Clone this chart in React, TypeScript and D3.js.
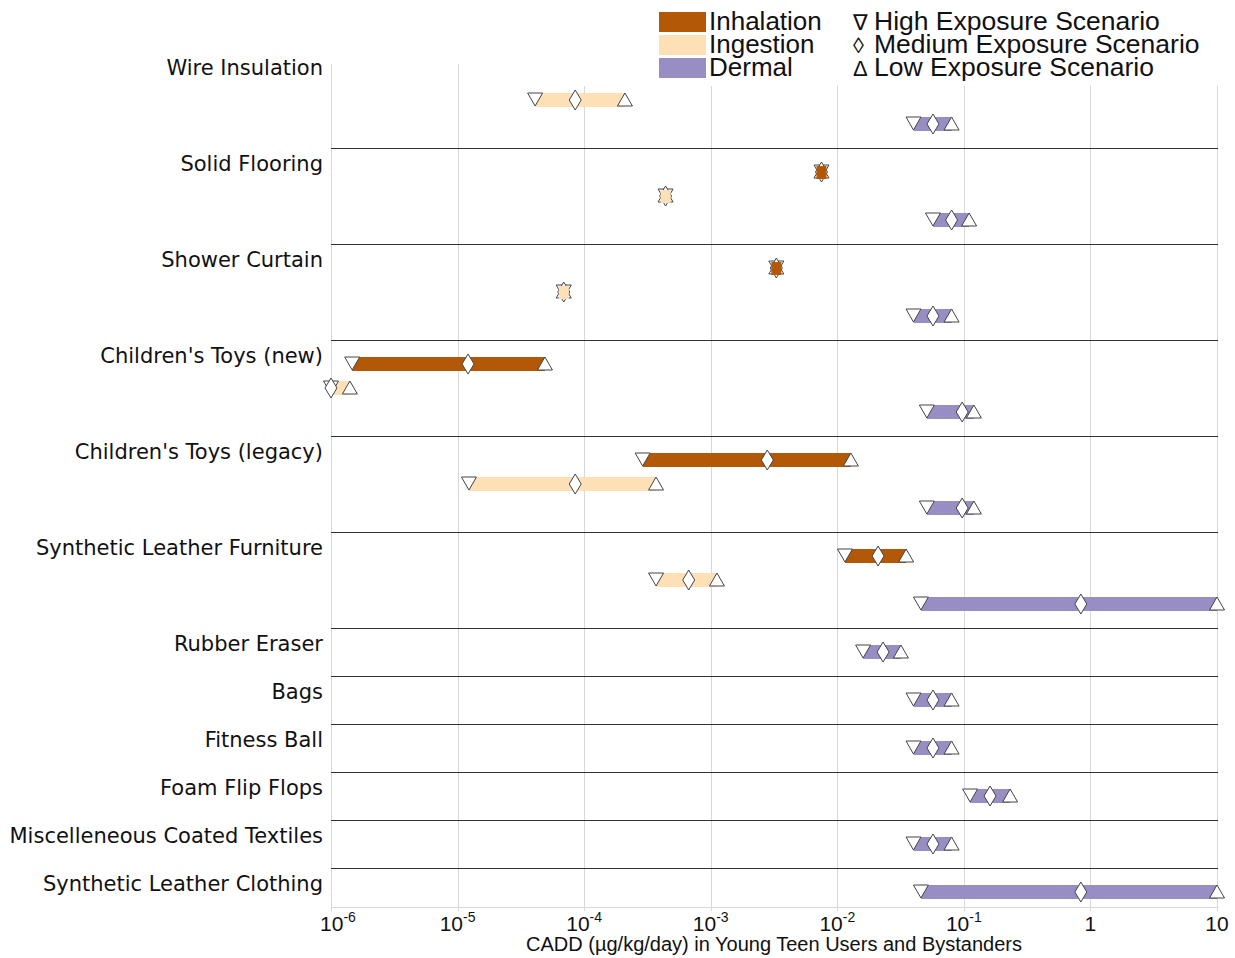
import React from "react";
import * as d3 from "d3";

const categories = [
  "Wire Insulation",
  "Solid Flooring",
  "Shower Curtain",
  "Children's Toys (new)",
  "Children's Toys (legacy)",
  "Synthetic Leather Furniture",
  "Rubber Eraser",
  "Bags",
  "Fitness Ball",
  "Foam Flip Flops",
  "Miscelleneous Coated Textiles",
  "Synthetic Leather Clothing",
];

// row index of each category's first slot (label row)
const categoryRow = [1, 5, 9, 13, 17, 21, 25, 27, 29, 31, 33, 35];
// separators below each category (row index)
const separatorRows = [4, 8, 12, 16, 20, 24, 26, 28, 30, 32, 34];

const routes = ["Inhalation", "Ingestion", "Dermal"];
const routeColors = ["#b35806", "#fee0b6", "#998ec3"];

// [category, route index, high(▽), medium(◇), low(△)]
type Rec = [number, number, number, number, number];
const inhalation: Rec[] = [
  [1, 0, 0.0075, 0.0075, 0.0075],
  [2, 0, 0.0033, 0.0033, 0.0033],
  [3, 0, 1.47e-6, 1.21e-5, 4.9e-5],
  [4, 0, 2.9e-4, 0.0028, 0.0128],
  [5, 0, 0.0115, 0.021, 0.035],
];
const ingestion: Rec[] = [
  [0, 1, 4.1e-5, 8.5e-5, 2.1e-4],
  [1, 1, 4.4e-4, 4.4e-4, 4.4e-4],
  [2, 1, 6.9e-5, 6.9e-5, 6.9e-5],
  [3, 1, 1e-6, 1e-6, 1.41e-6],
  [4, 1, 1.23e-5, 8.5e-5, 3.7e-4],
  [5, 1, 3.7e-4, 6.7e-4, 0.00112],
];
const dermal: Rec[] = [
  [0, 2, 0.04, 0.057, 0.08],
  [1, 2, 0.057, 0.08, 0.11],
  [2, 2, 0.04, 0.057, 0.08],
  [3, 2, 0.051, 0.097, 0.12],
  [4, 2, 0.051, 0.097, 0.12],
  [5, 2, 0.0458, 0.84, 10],
  [6, 2, 0.016, 0.023, 0.0318],
  [7, 2, 0.04, 0.057, 0.08],
  [8, 2, 0.04, 0.057, 0.08],
  [9, 2, 0.112, 0.161, 0.232],
  [10, 2, 0.04, 0.057, 0.08],
  [11, 2, 0.0458, 0.84, 10],
];

const tickValues = [1e-6, 1e-5, 1e-4, 1e-3, 1e-2, 1e-1, 1, 10];
const scenarioSymbols = ["\u2207", "\u25CA", "\u0394"];
const scenarioLabels = ["High Exposure Scenario", "Medium Exposure Scenario", "Low Exposure Scenario"];
const xTitle = "CADD (\u00B5g/kg/day) in Young Teen Users and Bystanders";

const W = 1235;
const H = 958;

export default function App() {
  const x = d3.scaleLog().domain([1e-6, 10]).range([331, 1217]);
  const y = d3.scaleLinear().domain([0, 1]).range([52, 76]);
  const plotTop = 64;
  const plotBottom = 907;
  const records = [...inhalation, ...ingestion, ...dermal];

  const rowOf = (r: Rec) => {
    const base = categoryRow[r[0]];
    if (r[0] <= 5) return base + r[1];
    return base;
  };

  const tri = (cx: number, cy: number, down: boolean) => {
    const w = 7.5, t = cy - 7, b = cy + 6;
    return down
      ? `M${cx - w},${t}L${cx + w},${t}L${cx},${b}Z`
      : `M${cx - w},${b}L${cx + w},${b}L${cx},${t}Z`;
  };
  const diamond = (cx: number, cy: number) =>
    `M${cx},${cy - 10}L${cx + 6},${cy}L${cx},${cy + 10}L${cx - 6},${cy}Z`;

  const fmt = (v: number) => {
    const e = Math.round(Math.log10(v));
    if (e === 0) return { base: "1", sup: "" };
    if (e === 1) return { base: "10", sup: "" };
    return { base: "10", sup: String(e) };
  };

  const crisp = (v: number) => Math.round(v) + 0.5;

  return (
    <svg width={W} height={H} style={{ display: "block", position: "absolute", left: 0, top: 0 }}>
      <rect x={0} y={0} width={W} height={H} fill="#fff" />
      {/* gridlines */}
      {tickValues.map((t, i) => (
        <g key={"g" + i}>
          <line x1={crisp(x(t))} x2={crisp(x(t))} y1={plotTop} y2={plotBottom + 4} stroke="#d8d8d8" strokeWidth={1} />
        </g>
      ))}
      <line x1={331} x2={1218} y1={plotBottom + 0.5} y2={plotBottom + 0.5} stroke="#d8d8d8" strokeWidth={1} />
      {/* separators */}
      {separatorRows.map((r, i) => (
        <line key={"s" + i} x1={331} x2={1218} y1={crisp(y(r))} y2={crisp(y(r))} stroke="#333" strokeWidth={1} />
      ))}
      {/* category labels */}
      {categories.map((c, i) => (
        <text
          key={"c" + i}
          x={323}
          y={y(categoryRow[i]) - 1}
          textAnchor="end"
          fontFamily="DejaVu Sans"
          fontSize={21}
          fill="#111"
        >
          {c}
        </text>
      ))}
      {/* records */}
      {records.map((r, i) => {
        const cy = y(rowOf(r));
        const xh = x(r[2]), xm = x(r[3]), xl = x(r[4]);
        const color = routeColors[r[1]];
        const degenerate = r[2] === r[4];
        return (
          <g key={"r" + i}>
            {!degenerate && (
              <rect x={xh} y={cy - 7} width={Math.max(xl - xh, 0)} height={14} fill={color} />
            )}
            <path d={tri(xh, cy, true)} fill="#fff" stroke="#444" strokeWidth={1} />
            <path d={tri(xl, cy, false)} fill="#fff" stroke="#444" strokeWidth={1} />
            <path d={diamond(xm, cy)} fill="#fff" stroke="#444" strokeWidth={1} />
            {degenerate && <rect x={xh - 5} y={cy - 6} width={10} height={13} fill={color} />}
          </g>
        );
      })}
      {/* tick labels */}
      {tickValues.map((t, i) => {
        const f = fmt(t);
        return (
          <text
            key={"t" + i}
            x={x(t) + (i === 0 ? 7 : 0)}
            y={931}
            textAnchor="middle"
            fontFamily="Liberation Sans, Arial"
            fontSize={21}
            fill="#111"
          >
            {f.base}
            {f.sup && (
              <tspan fontSize={14} dy={-9}>
                {f.sup}
              </tspan>
            )}
          </text>
        );
      })}
      <text x={774} y={951} textAnchor="middle" fontFamily="Liberation Sans, Arial" fontSize={20} fill="#111">
        {xTitle}
      </text>
      {/* legend */}
      <rect x={520} y={0} width={W - 520} height={86} fill="#fff" />
      {routes.map((r, i) => (
        <g key={"l" + i}>
          <rect x={659} y={12 + i * 23} width={47} height={20} fill={routeColors[i]} />
          <text x={709} y={30 + i * 23} fontFamily="Liberation Sans, Arial" fontSize={26} fill="#111">
            {r}
          </text>
        </g>
      ))}
      {scenarioLabels.map((s, i) => (
        <g key={"sl" + i}>
          <text x={853} y={30 + i * 23} fontFamily="Liberation Sans, Arial" fontSize={22} fill="#111">
            {scenarioSymbols[i]}
          </text>
          <text x={874} y={30 + i * 23} fontFamily="Liberation Sans, Arial" fontSize={26.5} fill="#111">
            {s}
          </text>
        </g>
      ))}
    </svg>
  );
}
